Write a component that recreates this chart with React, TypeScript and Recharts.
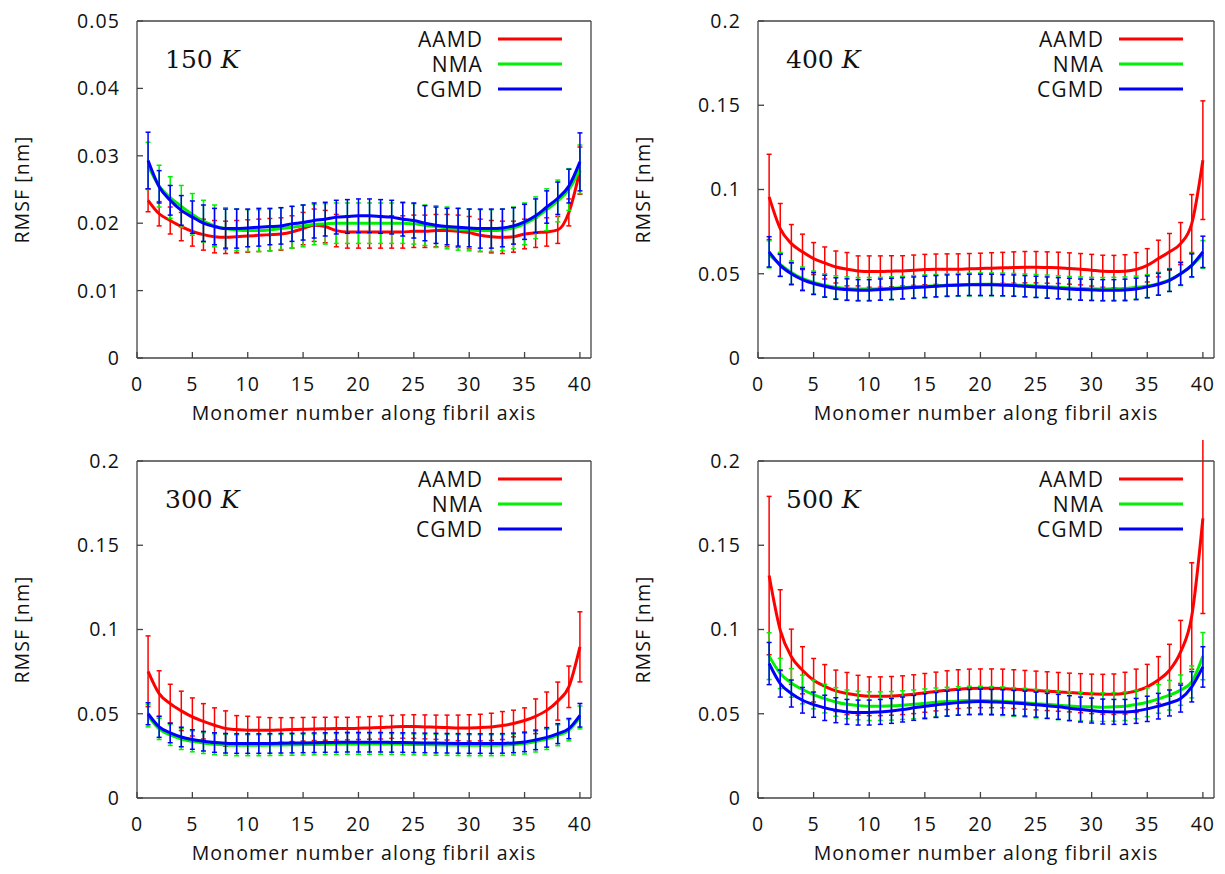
import React from 'react';
import { LineChart, Line, XAxis, YAxis, ErrorBar } from 'recharts';

const monomers = [1,2,3,4,5,6,7,8,9,10,11,12,13,14,15,16,17,18,19,20,21,22,23,24,25,26,27,28,29,30,31,32,33,34,35,36,37,38,39,40];
const xTicks = [0, 5, 10, 15, 20, 25, 30, 35, 40];
const yTicks150 = [0, 0.01, 0.02, 0.03, 0.04, 0.05];
const yTicksHigh = [0, 0.05, 0.1, 0.15, 0.2];
const seriesNames = ['AAMD', 'NMA', 'CGMD'];

// 150 K
const aamd150 = [0.0234,0.0214,0.0204,0.0195,0.0188,0.0183,0.0180,0.0179,0.0180,0.0181,0.0182,0.0183,0.0184,0.0187,0.0192,0.0197,0.0195,0.0189,0.0187,0.0187,0.0187,0.0187,0.0187,0.0187,0.0188,0.0188,0.0189,0.0189,0.0188,0.0186,0.0182,0.0180,0.0179,0.0180,0.0184,0.0186,0.0187,0.0190,0.0216,0.0278];
const aamdErr150 = [0.0017,0.0018,0.0020,0.0021,0.0022,0.0023,0.0024,0.0024,0.0024,0.0024,0.0024,0.0024,0.0024,0.0024,0.0024,0.0024,0.0024,0.0024,0.0024,0.0024,0.0024,0.0024,0.0024,0.0024,0.0024,0.0024,0.0024,0.0024,0.0024,0.0024,0.0024,0.0024,0.0024,0.0023,0.0022,0.0022,0.0021,0.0020,0.0020,0.0035];
const nma150 = [0.0285,0.0255,0.0238,0.0225,0.0213,0.0203,0.0196,0.0192,0.0190,0.0189,0.0189,0.0190,0.0192,0.0194,0.0196,0.0198,0.0199,0.0200,0.0200,0.0200,0.0200,0.0200,0.0200,0.0200,0.0199,0.0197,0.0195,0.0193,0.0191,0.0190,0.0189,0.0189,0.0190,0.0193,0.0199,0.0208,0.0220,0.0233,0.0250,0.0280];
const nmaErr150 = [0.0035,0.0031,0.0031,0.0031,0.0031,0.0031,0.0031,0.0031,0.0031,0.0031,0.0031,0.0031,0.0031,0.0031,0.0031,0.0030,0.0030,0.0030,0.0030,0.0030,0.0030,0.0030,0.0030,0.0030,0.0030,0.0030,0.0031,0.0031,0.0031,0.0031,0.0031,0.0031,0.0031,0.0031,0.0031,0.0031,0.0031,0.0031,0.0031,0.0036];
const cgmd150 = [0.0293,0.0254,0.0234,0.0219,0.0209,0.0200,0.0195,0.0192,0.0192,0.0193,0.0194,0.0195,0.0196,0.0199,0.0201,0.0204,0.0206,0.0209,0.0210,0.0211,0.0211,0.0210,0.0209,0.0206,0.0204,0.0200,0.0197,0.0195,0.0194,0.0193,0.0192,0.0192,0.0193,0.0196,0.0202,0.0211,0.0224,0.0237,0.0255,0.0291];
const cgmdErr150 = [0.0042,0.0024,0.0022,0.0022,0.0024,0.0027,0.0027,0.0029,0.0029,0.0028,0.0028,0.0027,0.0027,0.0026,0.0026,0.0026,0.0025,0.0025,0.0025,0.0025,0.0025,0.0025,0.0025,0.0025,0.0026,0.0026,0.0027,0.0027,0.0028,0.0028,0.0029,0.0029,0.0028,0.0027,0.0026,0.0025,0.0024,0.0024,0.0025,0.0043];

// 400 K
const aamd400 = [0.0956,0.0768,0.0679,0.0630,0.0590,0.0564,0.0540,0.0527,0.0517,0.0513,0.0513,0.0515,0.0517,0.0521,0.0525,0.0527,0.0527,0.0527,0.0529,0.0531,0.0533,0.0535,0.0537,0.0539,0.0539,0.0537,0.0535,0.0531,0.0527,0.0521,0.0515,0.0513,0.0515,0.0525,0.0550,0.0590,0.0630,0.0679,0.0798,0.1174];
const aamdErr400 = [0.0253,0.0149,0.0113,0.0105,0.0095,0.0095,0.0095,0.0099,0.0089,0.0093,0.0093,0.0092,0.0090,0.0090,0.0090,0.0090,0.0091,0.0091,0.0091,0.0091,0.0092,0.0092,0.0093,0.0093,0.0093,0.0093,0.0093,0.0093,0.0093,0.0094,0.0095,0.0096,0.0098,0.0101,0.0099,0.0109,0.0109,0.0125,0.0172,0.0352];
const nma400 = [0.0615,0.0555,0.0508,0.0472,0.0448,0.0432,0.0420,0.0413,0.0410,0.0410,0.0411,0.0414,0.0417,0.0421,0.0425,0.0428,0.0432,0.0434,0.0436,0.0437,0.0437,0.0436,0.0434,0.0431,0.0428,0.0424,0.0420,0.0416,0.0413,0.0411,0.0410,0.0411,0.0413,0.0418,0.0427,0.0441,0.0463,0.0500,0.0550,0.0615];
const nmaErr400 = [0.0080,0.0072,0.0068,0.0068,0.0068,0.0068,0.0068,0.0068,0.0068,0.0068,0.0068,0.0068,0.0068,0.0068,0.0068,0.0068,0.0068,0.0068,0.0068,0.0068,0.0068,0.0068,0.0068,0.0068,0.0068,0.0068,0.0068,0.0068,0.0068,0.0068,0.0068,0.0068,0.0068,0.0068,0.0068,0.0068,0.0068,0.0070,0.0072,0.0082];
const cgmd400 = [0.0630,0.0550,0.0500,0.0465,0.0442,0.0426,0.0412,0.0406,0.0402,0.0402,0.0406,0.0410,0.0414,0.0418,0.0422,0.0426,0.0430,0.0432,0.0434,0.0434,0.0434,0.0432,0.0430,0.0426,0.0422,0.0418,0.0414,0.0410,0.0406,0.0404,0.0402,0.0402,0.0404,0.0410,0.0422,0.0438,0.0461,0.0500,0.0550,0.0630];
const cgmdErr400 = [0.0090,0.0065,0.0065,0.0065,0.0065,0.0065,0.0064,0.0064,0.0063,0.0063,0.0063,0.0063,0.0063,0.0063,0.0063,0.0063,0.0063,0.0063,0.0063,0.0063,0.0063,0.0063,0.0063,0.0063,0.0063,0.0063,0.0063,0.0063,0.0063,0.0063,0.0063,0.0063,0.0064,0.0064,0.0065,0.0065,0.0066,0.0067,0.0068,0.0093];

// 300 K
const aamd300 = [0.0752,0.0620,0.0560,0.0517,0.0481,0.0455,0.0432,0.0412,0.0406,0.0402,0.0402,0.0402,0.0404,0.0406,0.0408,0.0410,0.0411,0.0412,0.0412,0.0414,0.0416,0.0418,0.0422,0.0424,0.0424,0.0422,0.0420,0.0418,0.0416,0.0416,0.0418,0.0422,0.0430,0.0442,0.0460,0.0485,0.0520,0.0575,0.0660,0.0897];
const aamdErr300 = [0.0210,0.0135,0.0115,0.0117,0.0113,0.0105,0.0103,0.0105,0.0083,0.0083,0.0078,0.0075,0.0073,0.0071,0.0070,0.0069,0.0068,0.0068,0.0067,0.0067,0.0067,0.0068,0.0068,0.0069,0.0070,0.0071,0.0072,0.0074,0.0076,0.0078,0.0079,0.0081,0.0083,0.0079,0.0075,0.0103,0.0109,0.0113,0.0123,0.0208];
const nma300 = [0.0488,0.0410,0.0374,0.0350,0.0336,0.0326,0.0319,0.0315,0.0313,0.0313,0.0313,0.0314,0.0315,0.0316,0.0317,0.0318,0.0319,0.0320,0.0321,0.0321,0.0321,0.0321,0.0320,0.0319,0.0318,0.0317,0.0316,0.0315,0.0314,0.0313,0.0313,0.0313,0.0314,0.0317,0.0323,0.0335,0.0350,0.0372,0.0402,0.0478];
const nmaErr300 = [0.0066,0.0063,0.0062,0.0062,0.0062,0.0062,0.0062,0.0062,0.0062,0.0062,0.0062,0.0062,0.0062,0.0062,0.0062,0.0062,0.0062,0.0062,0.0062,0.0062,0.0062,0.0062,0.0062,0.0062,0.0062,0.0062,0.0062,0.0062,0.0062,0.0062,0.0062,0.0062,0.0062,0.0062,0.0062,0.0062,0.0062,0.0062,0.0063,0.0068];
const cgmd300 = [0.0500,0.0422,0.0386,0.0362,0.0347,0.0337,0.0329,0.0325,0.0323,0.0323,0.0323,0.0324,0.0325,0.0326,0.0327,0.0328,0.0329,0.0330,0.0331,0.0331,0.0331,0.0331,0.0330,0.0329,0.0328,0.0327,0.0326,0.0325,0.0324,0.0323,0.0323,0.0323,0.0324,0.0327,0.0333,0.0345,0.0360,0.0382,0.0412,0.0491];
const cgmdErr300 = [0.0065,0.0062,0.0058,0.0058,0.0058,0.0058,0.0058,0.0058,0.0058,0.0058,0.0058,0.0058,0.0058,0.0058,0.0058,0.0058,0.0058,0.0058,0.0058,0.0058,0.0058,0.0058,0.0058,0.0058,0.0058,0.0058,0.0058,0.0058,0.0058,0.0058,0.0058,0.0058,0.0058,0.0058,0.0058,0.0058,0.0058,0.0059,0.0060,0.0070];

// 500 K
const aamd500 = [0.1320,0.0996,0.0838,0.0758,0.0699,0.0663,0.0636,0.0620,0.0610,0.0604,0.0604,0.0606,0.0610,0.0616,0.0624,0.0632,0.0640,0.0646,0.0650,0.0651,0.0651,0.0650,0.0646,0.0642,0.0638,0.0634,0.0630,0.0626,0.0622,0.0618,0.0616,0.0616,0.0622,0.0636,0.0660,0.0700,0.0758,0.0867,0.1080,0.1660];
const aamdErr500 = [0.0470,0.0240,0.0164,0.0140,0.0129,0.0129,0.0123,0.0125,0.0118,0.0115,0.0115,0.0115,0.0115,0.0115,0.0115,0.0115,0.0115,0.0115,0.0115,0.0115,0.0115,0.0115,0.0115,0.0115,0.0115,0.0115,0.0115,0.0115,0.0116,0.0117,0.0118,0.0120,0.0124,0.0129,0.0133,0.0139,0.0154,0.0187,0.0316,0.0565];
const nma500 = [0.0842,0.0739,0.0683,0.0644,0.0614,0.0590,0.0570,0.0556,0.0549,0.0545,0.0545,0.0547,0.0551,0.0556,0.0562,0.0568,0.0572,0.0576,0.0578,0.0578,0.0576,0.0574,0.0570,0.0566,0.0560,0.0556,0.0550,0.0546,0.0542,0.0541,0.0539,0.0541,0.0545,0.0555,0.0568,0.0588,0.0610,0.0640,0.0689,0.0842];
const nmaErr500 = [0.0139,0.0090,0.0085,0.0085,0.0085,0.0085,0.0085,0.0085,0.0085,0.0085,0.0085,0.0085,0.0085,0.0085,0.0085,0.0085,0.0085,0.0085,0.0085,0.0085,0.0085,0.0085,0.0085,0.0085,0.0085,0.0085,0.0085,0.0085,0.0085,0.0085,0.0085,0.0085,0.0085,0.0085,0.0085,0.0085,0.0088,0.0090,0.0095,0.0140];
const cgmd500 = [0.0798,0.0679,0.0620,0.0580,0.0554,0.0535,0.0521,0.0511,0.0507,0.0507,0.0511,0.0517,0.0525,0.0535,0.0545,0.0552,0.0560,0.0566,0.0570,0.0572,0.0570,0.0568,0.0564,0.0560,0.0554,0.0547,0.0541,0.0533,0.0525,0.0519,0.0513,0.0511,0.0511,0.0517,0.0529,0.0545,0.0564,0.0590,0.0660,0.0778];
const cgmdErr500 = [0.0125,0.0080,0.0080,0.0076,0.0075,0.0075,0.0074,0.0074,0.0074,0.0074,0.0074,0.0074,0.0074,0.0074,0.0074,0.0074,0.0074,0.0074,0.0074,0.0074,0.0074,0.0074,0.0074,0.0074,0.0074,0.0074,0.0074,0.0074,0.0074,0.0074,0.0074,0.0074,0.0074,0.0074,0.0075,0.0076,0.0077,0.0080,0.0090,0.0120];

const COLORS = ['#ff0000', '#00f000', '#0000ff'];
const AXIS_COLOR = '#444444';
const SANS = '"Open Sans", "Noto Sans", sans-serif';
const SPACING = '1.1px';
const X_MAX = 41;
const CHART_H = 430;
const PLOT_TOP = 21;
const PLOT_BOTTOM = 358;
const X_AXIS_H = 40;

function buildRows(a: number[], ae: number[], n: number[], ne: number[], c: number[], ce: number[]) {
  return monomers.map((m, i) => ({
    x: m,
    aamd: a[i], aamdErr: ae[i],
    nma: n[i], nmaErr: ne[i],
    cgmd: c[i], cgmdErr: ce[i],
  }));
}

const panels = [
  { temp: '150', rows: buildRows(aamd150, aamdErr150, nma150, nmaErr150, cgmd150, cgmdErr150), yMax: 0.05, yTicks: yTicks150, left: 0, top: 0, yAxisW: 137, width: 600, rightMargin: 9 },
  { temp: '400', rows: buildRows(aamd400, aamdErr400, nma400, nmaErr400, cgmd400, cgmdErr400), yMax: 0.2, yTicks: yTicksHigh, left: 612, top: 0, yAxisW: 146, width: 612, rightMargin: 10 },
  { temp: '300', rows: buildRows(aamd300, aamdErr300, nma300, nmaErr300, cgmd300, cgmdErr300), yMax: 0.2, yTicks: yTicksHigh, left: 0, top: 440, yAxisW: 137, width: 600, rightMargin: 9 },
  { temp: '500', rows: buildRows(aamd500, aamdErr500, nma500, nmaErr500, cgmd500, cgmdErr500), yMax: 0.2, yTicks: yTicksHigh, left: 612, top: 440, yAxisW: 146, width: 612, rightMargin: 10 },
];

const keys = ['aamd', 'nma', 'cgmd'];
const tickText = { fill: '#111', fontSize: 19.5, fontFamily: SANS, style: { letterSpacing: SPACING } };
const axisLineStyle = { stroke: AXIS_COLOR, strokeWidth: 1.3 };
const tickLineStyle = { stroke: AXIS_COLOR, strokeWidth: 1.3 };

function Panel({ p }: { p: typeof panels[number] }) {
  return (
    <div style={{ position: 'absolute', left: p.left, top: p.top, width: p.width, height: CHART_H }}>
      <LineChart
        width={p.width}
        height={CHART_H}
        data={p.rows}
        margin={{ top: PLOT_TOP - 1, right: p.rightMargin - 1, bottom: CHART_H - PLOT_BOTTOM - X_AXIS_H, left: 0 }}
      >
        <XAxis
          xAxisId="b"
          dataKey="x"
          type="number"
          domain={[0, X_MAX]}
          ticks={xTicks}
          allowDataOverflow
          height={X_AXIS_H}
          tickSize={-6}
          tickMargin={25}
          stroke={AXIS_COLOR}
          axisLine={axisLineStyle}
          tickLine={tickLineStyle}
          tick={tickText}
        />
        <XAxis
          xAxisId="t"
          orientation="top"
          dataKey="x"
          type="number"
          domain={[0, X_MAX]}
          ticks={xTicks}
          allowDataOverflow
          height={1}
          tickSize={-6}
          stroke={AXIS_COLOR}
          axisLine={axisLineStyle}
          tickLine={tickLineStyle}
          tick={false}
        />
        <YAxis
          yAxisId="l"
          type="number"
          domain={[0, p.yMax]}
          ticks={p.yTicks}
          allowDataOverflow
          width={p.yAxisW}
          tickSize={-6}
          tickMargin={23}
          stroke={AXIS_COLOR}
          axisLine={axisLineStyle}
          tickLine={tickLineStyle}
          tick={tickText}
          tickFormatter={(v: number) => String(v)}
        />
        <YAxis
          yAxisId="r"
          orientation="right"
          type="number"
          domain={[0, p.yMax]}
          ticks={p.yTicks}
          allowDataOverflow
          width={1}
          tickSize={-6}
          stroke={AXIS_COLOR}
          axisLine={axisLineStyle}
          tickLine={tickLineStyle}
          tick={false}
        />
        {keys.map((k, i) => (
          <Line
            key={k}
            xAxisId="b"
            yAxisId="l"
            type="monotone"
            dataKey={k}
            stroke={COLORS[i]}
            strokeWidth={3}
            dot={false}
            activeDot={false}
            isAnimationActive={false}
          >
            <ErrorBar dataKey={k + 'Err'} direction="y" width={2.5} stroke={COLORS[i]} strokeWidth={1.5} isAnimationActive={false} />
          </Line>
        ))}
      </LineChart>
    </div>
  );
}

function Overlay() {
  const items: React.ReactNode[] = [];
  panels.forEach((p, idx) => {
    const isRight = p.left > 0;
    const dy = p.top;
    const plotL = p.left + p.yAxisW;
    const plotR = p.left + p.width - p.rightMargin;
    const cx = (plotL + plotR) / 2;
    const labelX = plotL + 28;
    const textEnd = plotL + 345;
    const lineX1 = plotL + 361;
    const lineX2 = plotL + 425;
    items.push(
      <text key={'t' + idx} x={labelX} y={dy + 67.5} fontFamily='"DejaVu Serif", serif' fontSize={25} fill="#111">
        {p.temp + ' '}<tspan fontStyle="italic">K</tspan>
      </text>
    );
    seriesNames.forEach((name, i) => {
      const cy = dy + 39 + i * 25;
      items.push(
        <text key={'l' + idx + i} x={textEnd + 1} y={cy + 7.5} textAnchor="end" fontFamily={SANS} fontSize={21} fill="#111" style={{ letterSpacing: SPACING }}>{name}</text>
      );
      items.push(
        <line key={'ll' + idx + i} x1={lineX1} x2={lineX2} y1={cy} y2={cy} stroke={COLORS[i]} strokeWidth={3} />
      );
    });
    items.push(
      <text key={'xt' + idx} x={cx} y={dy + 420} textAnchor="middle" fontFamily={SANS} fontSize={19.5} fill="#111" style={{ letterSpacing: SPACING }}>Monomer number along fibril axis</text>
    );
    const yx = isRight ? 650 : 29;
    const yc = dy + (PLOT_TOP + PLOT_BOTTOM) / 2;
    items.push(
      <text key={'yt' + idx} transform={`translate(${yx}, ${yc}) rotate(-90)`} textAnchor="middle" fontFamily={SANS} fontSize={19.5} fill="#111" style={{ letterSpacing: SPACING }}>RMSF [nm]</text>
    );
  });
  return (
    <svg width={1225} height={874} style={{ position: 'absolute', left: 0, top: 0, pointerEvents: 'none' }}>
      {items}
    </svg>
  );
}

export default function App() {
  return (
    <div style={{ position: 'absolute', left: 0, top: 0, width: 1225, height: 874, background: '#fff', overflow: 'hidden' }}>
      {panels.map((p) => <Panel key={p.temp} p={p} />)}
      <Overlay />
    </div>
  );
}
